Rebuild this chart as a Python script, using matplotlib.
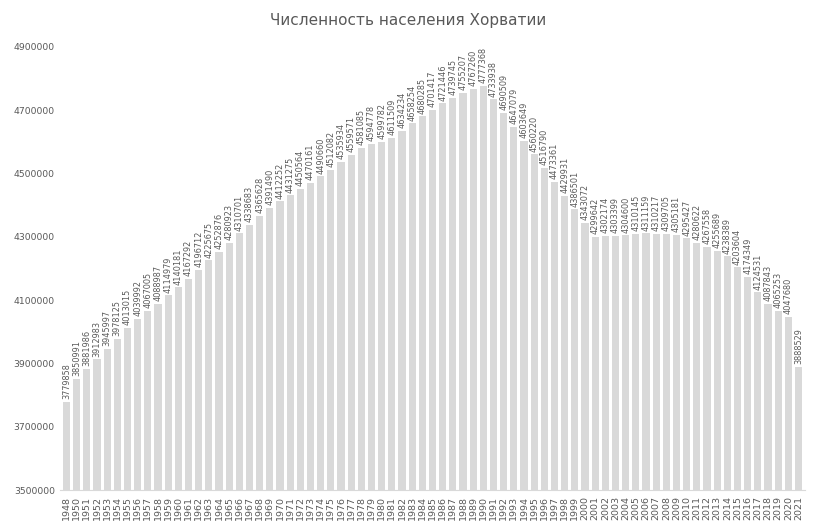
import matplotlib
matplotlib.use("Agg")
import matplotlib.pyplot as plt

years = ["1948"] + [str(y) for y in range(1950, 2022)]
population = [
    3779858, 3850991, 3881986, 3912983, 3945997, 3978125, 4013015, 4039992,
    4067005, 4088987, 4114979, 4140181, 4167292, 4196712, 4225675, 4252876,
    4280923, 4310701, 4338683, 4365628, 4391490, 4412252, 4431275, 4450564,
    4470161, 4490660, 4512082, 4535934, 4559571, 4581085, 4594778, 4599782,
    4611509, 4634234, 4658254, 4680285, 4701417, 4721446, 4739745, 4755207,
    4767260, 4777368, 4733938, 4690509, 4647079, 4603649, 4560220, 4516790,
    4473361, 4429931, 4386501, 4343072, 4299642, 4302174, 4303399, 4304600,
    4310145, 4311159, 4310217, 4309705, 4305181, 4295427, 4280622, 4267558,
    4255689, 4238389, 4203604, 4174349, 4124531, 4087843, 4065253, 4047680,
    3888529,
]
yticks = [3500000, 3700000, 3900000, 4100000, 4300000, 4500000, 4700000, 4900000]

plt.rcParams['font.family'] = ['DejaVu Sans']
txt = '#595959'

fig = plt.figure(figsize=(8.16, 5.27), dpi=100)
ax = fig.add_axes([0.074, 0.07, 0.912, 0.841])

x = list(range(len(years)))
ax.bar(x, population, width=0.7, color='#d9d9d9')
for xi, v in zip(x, population):
    ax.annotate(str(v), (xi, v), xytext=(0, 2), textcoords='offset points',
                rotation=90, ha='center', va='bottom', fontsize=5.9, color=txt)

ax.set_ylim(3500000, 4900000)
ax.set_xlim(-0.6, len(years) - 0.4)
ax.set_yticks(yticks)
ax.set_yticklabels([str(t) for t in yticks], fontsize=6.7, color=txt)
ax.set_xticks(x)
ax.set_xticklabels(years, rotation=90, fontsize=6.8, color=txt)
ax.tick_params(length=0, pad=4)
for s in ['top', 'right', 'left']:
    ax.spines[s].set_visible(False)
ax.spines['bottom'].set_color('#d9d9d9')

fig.suptitle('Численность населения Хорватии', y=0.975, fontsize=11, color=txt)

fig.savefig('out.png', dpi=100)
